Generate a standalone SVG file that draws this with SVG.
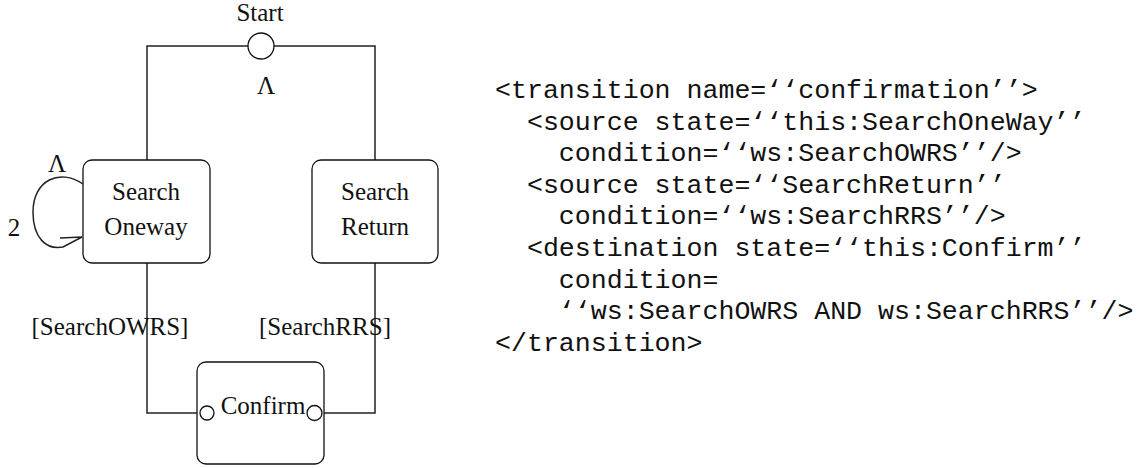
<svg xmlns="http://www.w3.org/2000/svg" width="1143" height="468" viewBox="0 0 1143 468">
<style>
.ln{fill:none;stroke:#222;stroke-width:1.5}
.box{fill:#fff;stroke:#111;stroke-width:1.3}
.port{fill:#fff;stroke:#111;stroke-width:1.3}
.t{font-family:"Liberation Serif","Times New Roman",serif;font-size:25px;fill:#111;text-anchor:middle}
.c{font-family:"Liberation Mono","Courier New",monospace;font-size:26.6px;fill:#111;white-space:pre}
</style>
<rect width="1143" height="468" fill="#fff"/>
<g id="connectors">
<path class="ln" d="M147 160 V46 H375 V160"/>
<path class="ln" d="M147 263 V413 H200"/>
<path class="ln" d="M375 263 V413 H322"/>
<path class="ln" d="M83 184 C60 168 33 180 33 212 C33 238 46 250 63 247 L82 237 M60 238 L82 237"/>
<text class="t" x="266" y="94">Λ</text>
<text class="t" x="57" y="172">Λ</text>
<text class="t" x="14" y="236">2</text>
<text class="t" x="110" y="335">[SearchOWRS]</text>
<text class="t" x="325" y="335">[SearchRRS]</text>
</g>
<g id="start">
<circle class="port" cx="261" cy="46" r="13"/>
<text class="t" x="260" y="21">Start</text>
</g>
<g id="searchOneway">
<rect class="box" x="83" y="160" width="127" height="103" rx="9"/>
<text class="t" x="146" y="200">Search</text>
<text class="t" x="146" y="235">Oneway</text>
</g>
<g id="searchReturn">
<rect class="box" x="312" y="160" width="126" height="103" rx="9"/>
<text class="t" x="375" y="200">Search</text>
<text class="t" x="375" y="235">Return</text>
</g>
<g id="confirm">
<rect class="box" x="197" y="362" width="127" height="102" rx="9"/>
<text class="t" x="263" y="414">Confirm</text>
<circle class="port" cx="207" cy="413" r="7"/>
<circle class="port" cx="314.5" cy="413" r="7.5"/>
</g>
<g id="code">
<text class="c" x="495" y="98">&lt;transition name=‘‘confirmation’’&gt;</text>
<text class="c" x="495" y="129.6">  &lt;source state=‘‘this:SearchOneWay’’</text>
<text class="c" x="495" y="161">    condition=‘‘ws:SearchOWRS’’/&gt;</text>
<text class="c" x="495" y="193">  &lt;source state=‘‘SearchReturn’’</text>
<text class="c" x="495" y="224">    condition=‘‘ws:SearchRRS’’/&gt;</text>
<text class="c" x="495" y="256">  &lt;destination state=‘‘this:Confirm’’</text>
<text class="c" x="495" y="288">    condition=</text>
<text class="c" x="495" y="319">    ‘‘ws:SearchOWRS AND ws:SearchRRS’’/&gt;</text>
<text class="c" x="495" y="351">&lt;/transition&gt;</text>
</g>
</svg>
